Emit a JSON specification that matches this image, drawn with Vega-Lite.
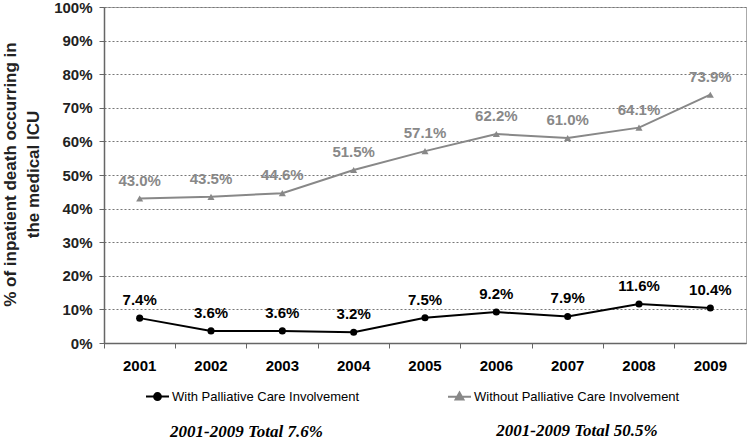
{
  "$schema": "https://vega.github.io/schema/vega-lite/v6.json",
  "width": 642,
  "height": 336,
  "autosize": "none",
  "padding": {"left": 104, "top": 7, "right": 4, "bottom": 103},
  "background": "white",
  "config": {
    "font": "Liberation Sans",
    "view": {"stroke": "#aaaaaa", "strokeWidth": 1}
  },
  "title": {
    "text": "2001-2009 Total 50.5%",
    "orient": "top",
    "frame": "group",
    "anchor": "middle",
    "baseline": "top",
    "dx": 152,
    "dy": 440,
    "offset": 0,
    "font": "Liberation Serif",
    "fontSize": 17,
    "fontWeight": "bold",
    "fontStyle": "italic",
    "color": "#000000"
  },
  "data": {
    "values": [
      {"year": "2001", "series": "With Palliative Care Involvement", "pct": 7.4},
      {"year": "2002", "series": "With Palliative Care Involvement", "pct": 3.6},
      {"year": "2003", "series": "With Palliative Care Involvement", "pct": 3.6},
      {"year": "2004", "series": "With Palliative Care Involvement", "pct": 3.2},
      {"year": "2005", "series": "With Palliative Care Involvement", "pct": 7.5},
      {"year": "2006", "series": "With Palliative Care Involvement", "pct": 9.2},
      {"year": "2007", "series": "With Palliative Care Involvement", "pct": 7.9},
      {"year": "2008", "series": "With Palliative Care Involvement", "pct": 11.6},
      {"year": "2009", "series": "With Palliative Care Involvement", "pct": 10.4},
      {"year": "2001", "series": "Without Palliative Care Involvement", "pct": 43.0},
      {"year": "2002", "series": "Without Palliative Care Involvement", "pct": 43.5},
      {"year": "2003", "series": "Without Palliative Care Involvement", "pct": 44.6},
      {"year": "2004", "series": "Without Palliative Care Involvement", "pct": 51.5},
      {"year": "2005", "series": "Without Palliative Care Involvement", "pct": 57.1},
      {"year": "2006", "series": "Without Palliative Care Involvement", "pct": 62.2},
      {"year": "2007", "series": "Without Palliative Care Involvement", "pct": 61.0},
      {"year": "2008", "series": "Without Palliative Care Involvement", "pct": 64.1},
      {"year": "2009", "series": "Without Palliative Care Involvement", "pct": 73.9}
    ]
  },
  "transform": [
    {"calculate": "format(datum.pct, '.1f') + '%'", "as": "label"}
  ],
  "encoding": {
    "x": {
      "field": "year",
      "type": "ordinal",
      "scale": {"type": "band", "paddingInner": 0, "paddingOuter": 0},
      "axis": {
        "title": "2001-2009 Total 7.6%",
        "titleX": 142,
        "titleY": 80,
        "titleBaseline": "top",
        "titleFont": "Liberation Serif",
        "titleFontSize": 17,
        "titleFontWeight": "bold",
        "titleFontStyle": "italic",
        "titleColor": "#000000",
        "labelAngle": 0,
        "labelFont": "Liberation Sans",
        "labelFontSize": 15,
        "labelFontWeight": "bold",
        "labelColor": "#000000",
        "labelPadding": 10,
        "bandPosition": 0,
        "ticks": true,
        "tickSize": 5,
        "tickColor": "#666666",
        "domainColor": "#666666",
        "domainWidth": 1.5,
        "grid": false
      }
    },
    "y": {
      "field": "pct",
      "type": "quantitative",
      "scale": {"domain": [0, 100], "nice": false},
      "axis": {
        "values": [0, 10, 20, 30, 40, 50, 60, 70, 80, 90, 100],
        "labelExpr": "datum.value + '%'",
        "labelFont": "Liberation Sans",
        "labelFontSize": 15,
        "labelFontWeight": "bold",
        "labelColor": "#222222",
        "labelPadding": 7,
        "tickSize": 5,
        "tickColor": "#666666",
        "domainColor": "#666666",
        "domainWidth": 1.5,
        "grid": true,
        "gridColor": "#777777",
        "gridDash": [2, 2],
        "gridWidth": 1,
        "title": ["% of inpatient death occurring in", "the medical ICU"],
        "titleFont": "Liberation Sans",
        "titleFontSize": 17,
        "titleFontWeight": "bold",
        "titleColor": "#222222",
        "titleAngle": -90,
        "titleBaseline": "top",
        "titleX": -102,
        "titleY": 167,
        "titleLineHeight": 23
      }
    },
    "color": {
      "field": "series",
      "type": "nominal",
      "scale": {
        "domain": ["With Palliative Care Involvement", "Without Palliative Care Involvement"],
        "range": ["#000000", "#888888"]
      }
    }
  },
  "layer": [
    {
      "mark": {"type": "line", "strokeWidth": 2},
      "encoding": {
        "color": {
          "field": "series",
          "type": "nominal",
          "scale": {
            "domain": ["With Palliative Care Involvement", "Without Palliative Care Involvement"],
            "range": ["#000000", "#888888"]
          },
          "legend": {
            "title": null,
            "orient": "none",
            "direction": "horizontal",
            "legendX": 41,
            "legendY": 377,
            "columnPadding": 84,
            "symbolSize": 529,
            "labelOffset": 2,
            "labelFont": "Liberation Sans",
            "labelFontSize": 13,
            "labelColor": "#000000",
            "labelLimit": 400,
            "encode": {
              "symbols": {
                "update": {
                  "shape": [
                    {"test": "datum.value === 'With Palliative Care Involvement'", "value": "M-1,0H1M0.3,0A0.3,0.3,0,1,1,-0.3,0A0.3,0.3,0,1,1,0.3,0Z"},
                    {"value": "M-1,0H1M0,-0.36L0.34,0.24L-0.34,0.24Z"}
                  ],
                  "fill": [
                    {"test": "datum.value === 'With Palliative Care Involvement'", "value": "#000000"},
                    {"value": "#888888"}
                  ],
                  "stroke": [
                    {"test": "datum.value === 'With Palliative Care Involvement'", "value": "#000000"},
                    {"value": "#888888"}
                  ],
                  "strokeWidth": {"value": 2},
                  "opacity": {"value": 1},
                  "fillOpacity": {"value": 1}
                }
              }
            }
          }
        }
      }
    },
    {
      "transform": [{"filter": "datum.series === 'With Palliative Care Involvement'"}],
      "mark": {"type": "point", "shape": "circle", "filled": true, "opacity": 1, "size": 50}
    },
    {
      "transform": [{"filter": "datum.series === 'Without Palliative Care Involvement'"}],
      "mark": {"type": "point", "shape": "triangle-up", "filled": true, "opacity": 1, "size": 50}
    },
    {
      "mark": {"type": "text", "dy": -18, "fontSize": 15, "fontWeight": "bold", "font": "Liberation Sans"},
      "encoding": {
        "text": {"field": "label", "type": "nominal"}
      }
    }
  ]
}
